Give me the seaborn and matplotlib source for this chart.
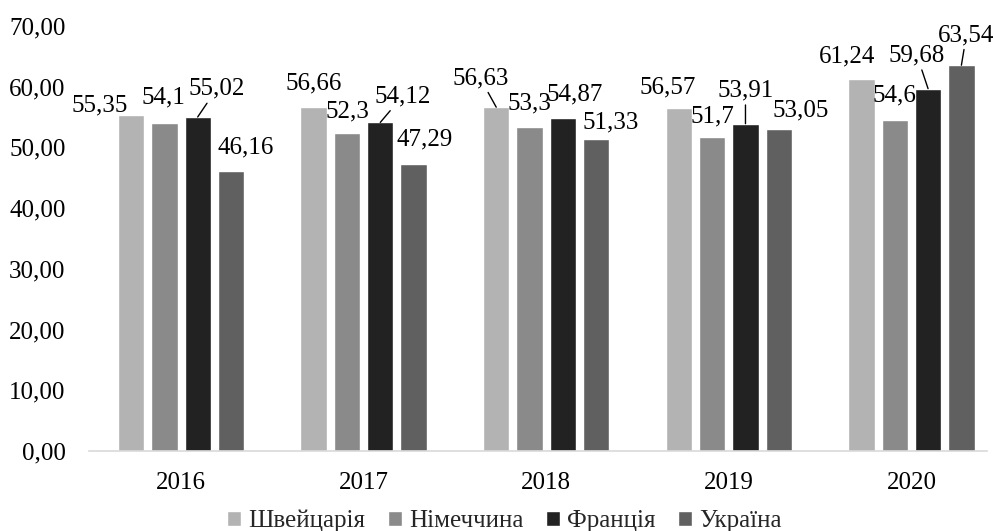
import matplotlib
matplotlib.use("Agg")
import matplotlib.pyplot as plt
from matplotlib.ticker import FuncFormatter
import pandas as pd
import seaborn as sns

# Data
years = ["2016", "2017", "2018", "2019", "2020"]
countries = ["Швейцарія", "Німеччина", "Франція", "Україна"]
switzerland = [55.35, 56.66, 56.63, 56.57, 61.24]
germany = [54.1, 52.3, 53.3, 51.7, 54.6]
france = [55.02, 54.12, 54.87, 53.91, 59.68]
ukraine = [46.16, 47.29, 51.33, 53.05, 63.54]
y_ticks = [0, 10, 20, 30, 40, 50, 60, 70]

series = [switzerland, germany, france, ukraine]
rows = []
for country, vals in zip(countries, series):
    for year, v in zip(years, vals):
        rows.append({"year": year, "country": country, "value": v})
df = pd.DataFrame(rows)

palette = ["#b3b3b3", "#8a8a8a", "#222222", "#606060"]

# Label placement: (dx, dy) pixel offset of each label from its bar top, and leader flag
label_layout = [
    [(-31, 9, False), (0, 24, False), (-16, 29, True), (-11, 20, False), (-14, 23, False)],
    [(-1, 25, False), (0, 22, False), (0, 24, False), (0, 21, False), (0, 24, False)],
    [(19, 28, True), (22, 26, True), (12, 23, False), (0, 33, True), (-11, 33, True)],
    [(15, 23, False), (11, 24, False), (14, 17, False), (22, 18, False), (5, 30, True)],
]

sns.set_style("white")
plt.rcParams["font.family"] = ["Liberation Serif", "DejaVu Serif"]
FS = 18

fig = plt.figure(figsize=(9.95, 5.31), dpi=100)
ax = fig.add_axes([89 / 995, 80 / 531, 898 / 995, 425 / 531])

sns.barplot(data=df, x="year", y="value", hue="country", hue_order=countries,
            order=years, palette=palette, width=0.73, gap=0.21, ax=ax,
            saturation=1, errorbar=None)

ax.set_xlim(-0.504, 4.414)
ax.set_ylim(0, 70)
ax.set_yticks(y_ticks)
ax.yaxis.set_major_formatter(FuncFormatter(lambda v, p: f"{v:.2f}".replace(".", ",")))
ax.set_xlabel("")
ax.set_ylabel("")
ax.tick_params(axis="both", length=0, labelsize=FS, colors="black")
ax.tick_params(axis="y", pad=17)
ax.tick_params(axis="x", pad=15)
for side in ["left", "right", "top"]:
    ax.spines[side].set_visible(False)
ax.spines["bottom"].set_color("#d9d9d9")
ax.spines["bottom"].set_linewidth(1.2)
ax.grid(False)

for ci, container in enumerate(ax.containers):
    for yi, patch in enumerate(container.patches):
        v = series[ci][yi]
        dx, dy, leader = label_layout[ci][yi]
        xc = patch.get_x() + patch.get_width() / 2
        text = f"{v:g}".replace(".", ",")
        arrow = dict(arrowstyle="-", color="black", lw=1, shrinkA=0, shrinkB=0) if leader else None
        ax.annotate(text, xy=(xc, v), xytext=(dx, dy), textcoords="offset pixels",
                    ha="center", va="center", fontsize=FS, color="black",
                    arrowprops=arrow, annotation_clip=False)

handles, labels = ax.get_legend_handles_labels()
if ax.get_legend() is not None:
    ax.get_legend().remove()
fig.legend(handles, labels, loc="center", bbox_to_anchor=(0.507, 0.019), ncol=4,
           frameon=False, fontsize=FS, handlelength=0.55, handleheight=0.55,
           handletextpad=0.3, columnspacing=0.9, borderaxespad=0)

fig.savefig("out.png", dpi=100)
